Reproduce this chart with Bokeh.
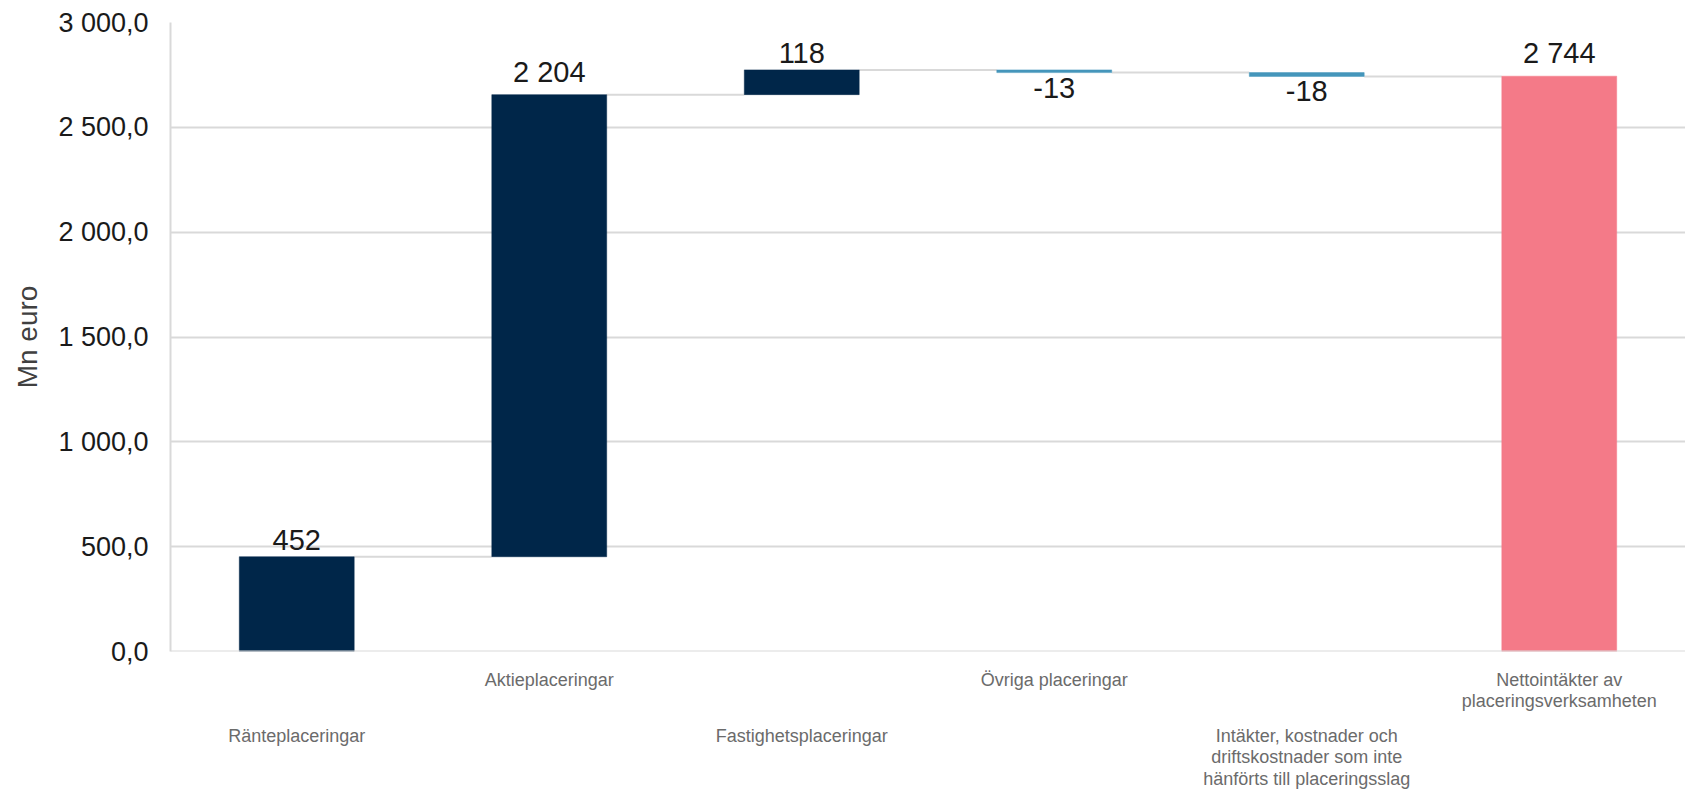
from bokeh.plotting import figure
from bokeh.layouts import column
from bokeh.models import FixedTicker, ColumnDataSource, Range1d, FactorRange, Span
from bokeh.core.properties import value
from bokeh.embed import file_html
from bokeh.resources import INLINE

# ---- data ----
categories = ["Ränteplaceringar", "Aktieplaceringar", "Fastighetsplaceringar",
              "Övriga placeringar",
              "Intäkter, kostnader och driftskostnader som inte hänförts till placeringsslag",
              "Nettointäkter av placeringsverksamheten"]
category_labels = ["Ränteplaceringar", "Aktieplaceringar", "Fastighetsplaceringar",
                   "Övriga placeringar",
                   "Intäkter, kostnader och\ndriftskostnader som inte\nhänförts till placeringsslag",
                   "Nettointäkter av\nplaceringsverksamheten"]
label_row = [1, 0, 1, 0, 1, 0]   # staggered rows of category labels
changes = [452, 2204, 118, -13, -18]
total = 2744
value_labels = ["452", "2 204", "118", "-13", "-18", "2 744"]
y_ticks = [0, 500, 1000, 1500, 2000, 2500, 3000]
y_tick_labels = ["0,0", "500,0", "1 000,0", "1 500,0", "2 000,0", "2 500,0", "3 000,0"]

NAVY = "#002649"
TEAL = "#4596bb"
PINK = "#f47a88"
GRID = "#d9d9d9"
FONT = "Liberation Sans"

# waterfall geometry from data
bottoms, tops, colors = [], [], []
run = 0
for c in changes:
    start = run
    run += c
    bottoms.append(min(start, run))
    tops.append(max(start, run))
    colors.append(NAVY if c >= 0 else TEAL)
bottoms.append(0)
tops.append(total)
colors.append(PINK)
levels = []
run = 0
for c in changes:
    run += c
    levels.append(run)

bar_w = 0.455
src = ColumnDataSource(dict(x=categories, bottom=bottoms, top=tops, color=colors))

xr = FactorRange(*categories)
p = figure(width=1685, height=667, x_range=xr, y_range=Range1d(0, 3000),
           output_backend="svg", toolbar_location=None,
           min_border_left=170, min_border_right=0, min_border_top=22, min_border_bottom=16)
p.outline_line_color = None
p.background_fill_color = "white"
p.border_fill_color = "white"

# connectors
x0 = [i + 0.5 + bar_w / 2 for i in range(len(levels))]
x1 = [i + 1.5 - bar_w / 2 for i in range(len(levels))]
p.segment(x0=x0, y0=levels, x1=x1, y1=levels, line_color=GRID, line_width=2)

p.vbar(x="x", bottom="bottom", top="top", width=bar_w, fill_color="color",
       line_color="color", line_width=0.5, source=src)

# value labels
pos_x, pos_y, pos_t, neg_x, neg_y, neg_t = [], [], [], [], [], []
vals = changes + [total]
for i, v in enumerate(vals):
    if v >= 0:
        pos_x.append(categories[i]); pos_y.append(tops[i]); pos_t.append(value_labels[i])
    else:
        neg_x.append(categories[i]); neg_y.append(bottoms[i]); neg_t.append(value_labels[i])
p.text(x=pos_x, y=pos_y, text=pos_t, text_align="center", text_baseline="bottom",
       y_offset=-7, text_font=value(FONT), text_font_size="29px", text_color="#1a1a1a")
p.text(x=neg_x, y=neg_y, text=neg_t, text_align="center", text_baseline="top",
       y_offset=5, text_font=value(FONT), text_font_size="29px", text_color="#1a1a1a")

# axes
p.yaxis.ticker = FixedTicker(ticks=y_ticks)
p.yaxis.major_label_overrides = {t: l for t, l in zip(y_ticks, y_tick_labels)}
p.yaxis.major_label_text_font = FONT
p.yaxis.major_label_text_font_size = "27px"
p.yaxis.major_label_text_color = "#1a1a1a"
p.yaxis.major_label_standoff = 16
p.yaxis.major_tick_line_color = None
p.yaxis.minor_tick_line_color = None
p.yaxis.axis_line_color = GRID
p.yaxis.axis_line_width = 2
p.yaxis.axis_label = "Mn euro"
p.yaxis.axis_label_text_font = FONT
p.yaxis.axis_label_text_font_size = "28px"
p.yaxis.axis_label_text_font_style = "normal"
p.yaxis.axis_label_text_color = "#404040"
p.yaxis.axis_label_standoff = 12

p.xaxis.visible = False
p.xgrid.grid_line_color = None
p.ygrid.grid_line_color = GRID
p.ygrid.grid_line_width = 2
p.add_layout(Span(location=0, dimension="width", line_color=GRID, line_width=2))

# ---- category label strip (staggered, multi-line) ----
q = figure(width=1685, height=124, x_range=xr, y_range=Range1d(124, 0),
           output_backend="svg", toolbar_location=None,
           min_border_left=170, min_border_right=0, min_border_top=0, min_border_bottom=0)
q.outline_line_color = None
q.axis.visible = False
q.grid.visible = False
row_top = [2, 58]
q.text(x=categories, y=[row_top[r] for r in label_row], text=category_labels,
       text_align="center", text_baseline="top", text_font=value(FONT),
       text_font_size="18px", text_color="#6b6b6b", text_line_height=1.08)

layout = column(p, q, spacing=0)
open("out.html", "w").write(file_html(layout, INLINE))
